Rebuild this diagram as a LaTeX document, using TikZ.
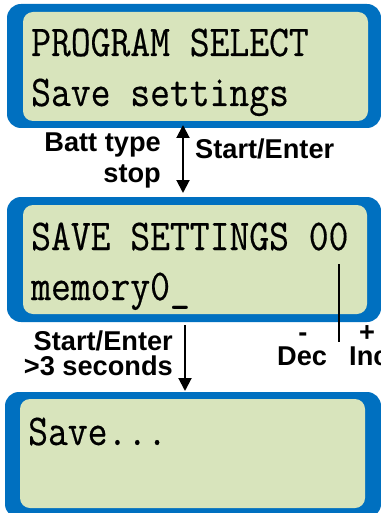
\documentclass[tikz,border=0pt]{standalone}
\usepackage{fontspec}
\newfontfamily\lblfont{Liberation Sans}
\newfontfamily\lcdfont{Latin Modern Mono}[FakeBold=0.4]
\usetikzlibrary{arrows.meta}
\definecolor{bezel}{RGB}{0,112,192}
\definecolor{lcdgreen}{RGB}{216,228,188}
\begin{document}
\begin{tikzpicture}[x=1pt,y=-1pt,
  bezelbox/.style={fill=bezel, rounded corners=14pt},
  screen/.style={fill=lcdgreen, rounded corners=10pt},
  lcd/.style={inner sep=0pt, anchor=base west, font=\lcdfont\fontsize{44}{44}\selectfont},
  lbl/.style={inner sep=0pt, font=\lblfont\bfseries\fontsize{27.2}{27.2}\selectfont},
  arr/.style={line width=2pt, -{Triangle[width=13pt,length=13pt]}},
  darr/.style={line width=2pt, {Triangle[width=13pt,length=13pt]}-{Triangle[width=13pt,length=13pt]}},
  tick/.style={line width=1.5pt},
  sign/.style={lbl, anchor=base, text depth=0pt}
]
\useasboundingbox (0,0) rectangle (380,513);
% panel 1
\fill[bezelbox] (7,4) rectangle (381,128);
\fill[screen] (23,12) rectangle (368,121);
\node[lcd] (p1l1) at (31,56) {\scalebox{0.875}[1]{PROGRAM SELECT}};
\node[lcd] (p1l2) at (31,106) {\scalebox{0.875}[1]{Save settings}};
% panel 2
\fill[bezelbox] (7,197) rectangle (381,322);
\fill[screen] (23,205) rectangle (367,314);
\node[lcd] (p2l1) at (31,250) {\scalebox{0.875}[1]{SAVE SETTINGS 00}};
\node[lcd] (p2l2) at (31,300) {\scalebox{0.875}[1]{memory0\_}};
% panel 3
\fill[bezelbox] (5,392) rectangle (381,518);
\fill[screen] (20,399) rectangle (365,508);
\node[lcd] (p3l1) at (28,445) {\scalebox{0.875}[1]{Save...}};
% arrow 1
\coordinate (a1u) at (183,125);
\coordinate (a1d) at (183,193);
\draw[darr] (a1u) -- (a1d);
\node[lbl, anchor=base east] (batt) at (161,152) {Batt type};
\node[lbl, anchor=base east] (stop) at (161,182) {stop};
\node[lbl, anchor=base west] (se1) at (195,158) {Start/Enter};
% arrow 2
\coordinate (a2u) at (185,325);
\coordinate (a2d) at (185,391);
\draw[arr] (a2u) -- (a2d);
\node[lbl, anchor=base east] (se2) at (173,350) {Start/Enter};
\node[lbl, anchor=base east] (sec) at (173,375) {>3 seconds};
% dec / inc
\coordinate (t1) at (339,264);
\coordinate (t2) at (339,342);
\draw[tick] (t1) -- (t2);
\node[sign] (minus) at (303,341) {-};
\node[sign] (plus) at (367,341) {+};
\node[lbl, anchor=base west] (dec) at (277,365) {Dec};
\node[lbl, anchor=base west] (inc) at (349,365) {Inc};
\end{tikzpicture}
\end{document}
